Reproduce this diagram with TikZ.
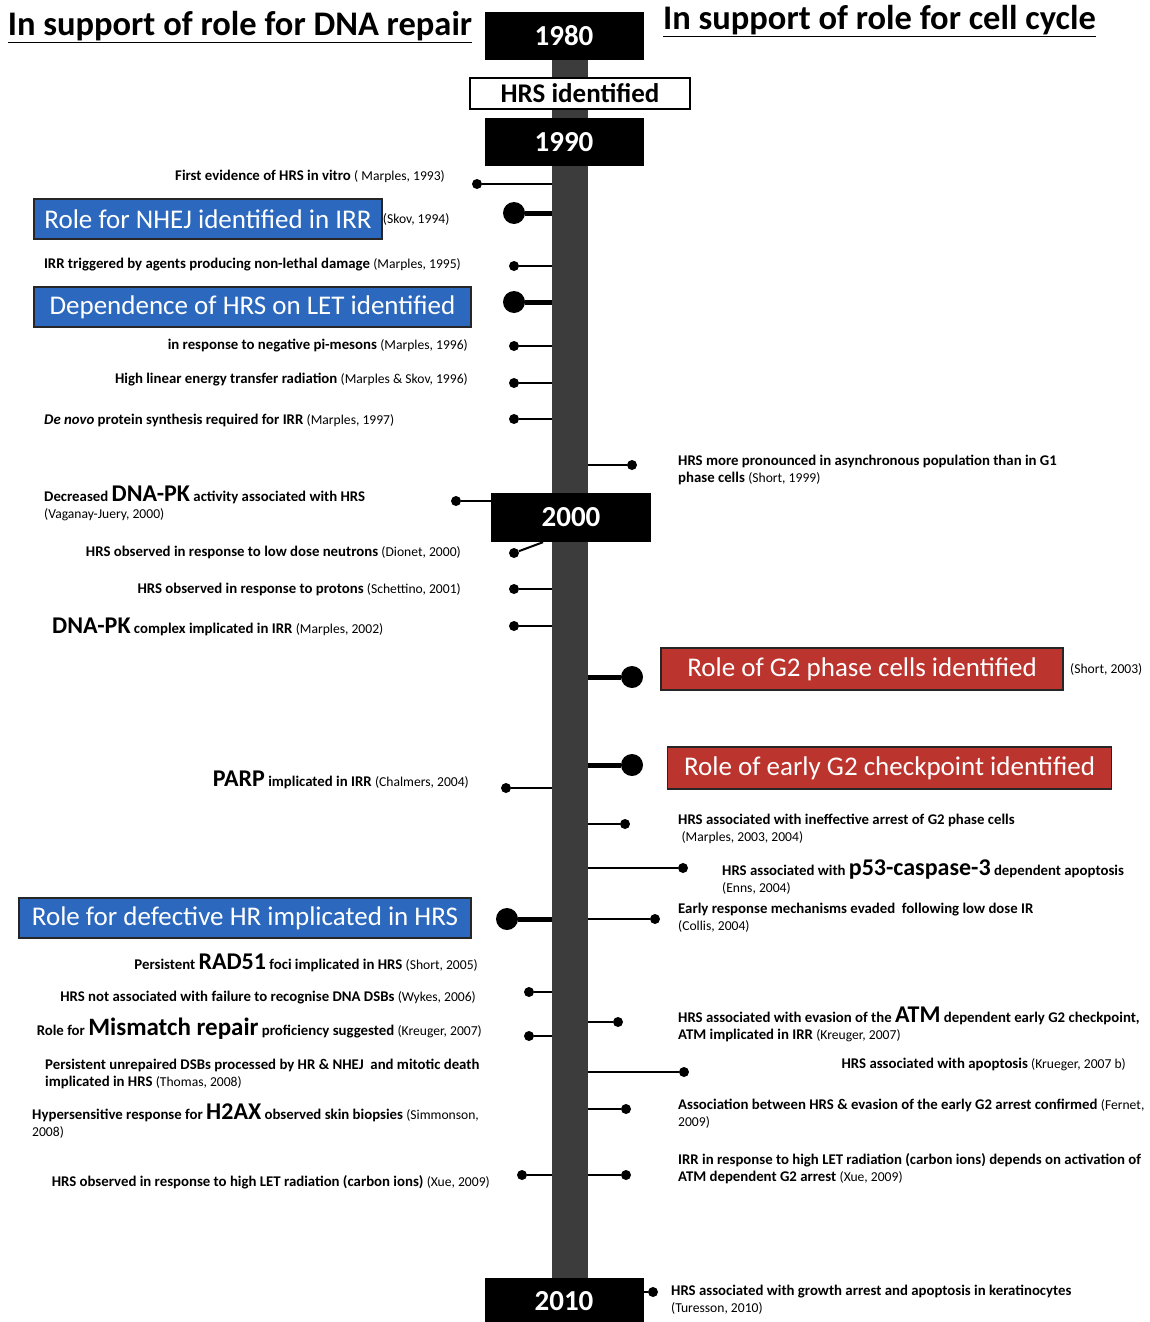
\documentclass[tikz,border=0pt]{standalone}
\usepackage{fontspec}
\setmainfont{Carlito}
\usetikzlibrary{positioning, calc}

\definecolor{barcol}{RGB}{60,60,60}
\definecolor{repblue}{RGB}{44,105,190}
\definecolor{cycred}{RGB}{188,52,46}

\newcommand{\srcf}{\mdseries\fontsize{13.6}{17}\selectfont}
\newcommand{\src}[1]{{\srcf(#1)}}
\newcommand{\bigword}[2][24]{{\fontsize{#1}{#1}\selectfont #2}}

\tikzset{
  yearbox/.style={fill=black, text=white, inner sep=0, minimum width=159, minimum height=48,
    font=\bfseries\fontsize{29}{32}\selectfont},
  rolebox/.style={draw=black!85, line width=1.5, text=white, inner sep=0,
    minimum height=40, font=\fontsize{27}{30}\selectfont},
  note/.style={inner sep=0, align=left, font=\bfseries\fontsize{14.8}{17}\selectfont},
  smalldot/.style={circle, fill=black, inner sep=0, minimum size=10},
  bigdot/.style={circle, fill=black, inner sep=0, minimum size=22},
  thin/.style={line width=2},
  thick/.style={line width=5}
}

\begin{document}
\begin{tikzpicture}[x=1pt, y=-1pt]
\useasboundingbox (0,0) rectangle (1150,1322);

% headings
\node[font=\bfseries\fontsize{34.5}{38}\selectfont, inner sep=0] (hrep) at (240,27) {\underline{In support of role for DNA repair}};
\node[font=\bfseries\fontsize{34.5}{38}\selectfont, inner sep=0] (hcyc) at (879.5,21) {\underline{In support of role for cell cycle}};

% time line
\node[fill=barcol, inner sep=0, minimum width=36, minimum height=1220] (bar) at (570,670) {};
\node[yearbox] (y1980) at (564,36) {1980};
\node[draw, line width=1.5, fill=white, inner sep=0, minimum width=220, minimum height=31,
      font=\bfseries\fontsize{27}{30}\selectfont] (hrsid) at (580,93.5) {HRS identified};
\node[yearbox] (y1990) at (564,142) {1990};
\node[yearbox, minimum width=160, minimum height=49] (y2000) at (571,517.5) {2000};
\node[yearbox, minimum height=46] (y2010) at (564,1301) {2010};

% dots, DNA repair side
\foreach \n/\x/\y in {a/477/184, b/514/266, c/514/346, d/514/383, e/514/419,
                      f/514/589, g/514/626, h/506/788, i/529/992, j/529/1036, k/522/1175} {
  \node[smalldot] (l\n) at (\x,\y) {};
  \draw[thin] (l\n) -- (l\n -| bar.west);
}
\foreach \n/\x/\y in {a/514/213, b/514/302, c/507/919} {
  \node[bigdot] (L\n) at (\x,\y) {};
  \draw[thick] (L\n) -- (L\n -| bar.west);
}
\node[smalldot] (lvag) at (456,501) {};
\draw[thin] (lvag) -- (lvag -| y2000.west);
\node[smalldot] (ldio) at (514,553) {};
\draw[thin] (ldio) -- ([xshift=-28]y2000.south);

% dots, cell cycle side
\foreach \n/\x/\y in {a/632/465, b/625/824, c/683/868, d/655/919, e/618/1022,
                      f/684/1072, g/626/1109, h/626/1175} {
  \node[smalldot] (r\n) at (\x,\y) {};
  \draw[thin] (r\n) -- (r\n -| bar.east);
}
\foreach \n/\x/\y in {a/632/677, b/632/765} {
  \node[bigdot] (R\n) at (\x,\y) {};
  \draw[thick] (R\n) -- (R\n -| bar.east);
}
\node[smalldot] (rtur) at (653,1292) {};
\draw[thin] (rtur) -- (rtur -| y2010.east);

% DNA repair notes
\node[note, anchor=east] (na) at (445,176) {First evidence of HRS in vitro \src{ Marples, 1993}};
\node[rolebox, fill=repblue, minimum width=348] (boxnhej) at (208,219) {Role for NHEJ identified in IRR};
\node[inner sep=0, anchor=west, font=\srcf] (cskov) at (boxnhej.east) {(Skov, 1994)};
\node[note, anchor=east] (nb) at (461,265) {IRR triggered by agents producing non-lethal damage \src{Marples, 1995}};
\node[rolebox, fill=repblue, minimum width=437] (boxlet) at (252.5,307) {Dependence of HRS on LET identified};
\node[note, anchor=east] (nc) at (468,346) {in response to negative pi-mesons \src{Marples, 1996}};
\node[note, anchor=east] (nd) at (468,380) {High linear energy transfer radiation \src{Marples \& Skov, 1996}};
\node[note, anchor=west] (ne) at (44,420) {\textit{De novo} protein synthesis required for IRR \src{Marples, 1997}};
\node[note, anchor=west] (nf) at (44,503) {Decreased \bigword{DNA-PK} activity associated with HRS\\\src{Vaganay-Juery, 2000}};
\node[note, anchor=east] (ng) at (461,552) {HRS observed in response to low dose neutrons \src{Dionet, 2000}};
\node[note, anchor=east] (nh) at (461,589) {HRS observed in response to protons \src{Schettino, 2001}};
\node[note, anchor=west] (ni) at (52,627) {\bigword{DNA-PK} complex implicated in IRR \src{Marples, 2002}};
\node[note, anchor=east] (nj) at (469,780) {\bigword{PARP} implicated in IRR \src{Chalmers, 2004}};
\node[rolebox, fill=repblue, minimum width=452] (boxhr) at (245,918) {Role for defective HR implicated in HRS};
\node[note, anchor=east] (nk) at (478,963) {Persistent \bigword{RAD51} foci implicated in HRS \src{Short, 2005}};
\node[note, anchor=east] (nl) at (476,998) {HRS not associated with failure to recognise DNA DSBs \src{Wykes, 2006}};
\node[note, anchor=east] (nm) at (482,1029) {Role for \bigword[25]{Mismatch repair} proficiency suggested \src{Kreuger, 2007}};
\node[note, anchor=west] (nn) at (45,1074) {Persistent unrepaired DSBs processed by HR \& NHEJ\ \ and mitotic death\\implicated in HRS \src{Thomas, 2008}};
\node[note, anchor=west] (no) at (32,1121) {Hypersensitive response for \bigword{H2AX} observed skin biopsies {\srcf(Simmonson,}\\{\srcf 2008)}};
\node[note, anchor=east] (np) at (490,1182) {HRS observed in response to high LET radiation (carbon ions) \src{Xue, 2009}};

% cell cycle notes
\node[note, anchor=west] (ma) at (678,470) {HRS more pronounced in asynchronous population than in G1\\phase cells \src{Short, 1999}};
\node[rolebox, fill=cycred, minimum width=402, minimum height=42] (boxg2) at (862,669) {Role of G2 phase cells identified};
\node[inner sep=0, anchor=west, font=\srcf] (cshort) at (1070,669) {(Short, 2003)};
\node[rolebox, fill=cycred, minimum width=444, minimum height=42] (boxchk) at (889.5,768) {Role of early G2 checkpoint identified};
\node[note, anchor=west] (mb) at (678,829) {HRS associated with ineffective arrest of G2 phase cells\\\ \src{Marples, 2003, 2004}};
\node[note, anchor=west] (mc) at (722,877) {HRS associated with \bigword{p53-caspase-3} dependent apoptosis\\\src{Enns, 2004}};
\node[note, anchor=west] (md) at (678,918) {Early response mechanisms evaded\ \ following low dose IR\\\src{Collis, 2004}};
\node[note, anchor=west] (me) at (678,1024) {HRS associated with evasion of the \bigword{ATM} dependent early G2 checkpoint,\\ATM implicated in IRR \src{Kreuger, 2007}};
\node[note, anchor=east] (mf) at (1126,1064) {HRS associated with apoptosis \src{Krueger, 2007 b}};
\node[note, anchor=west] (mg) at (678,1114) {Association between HRS \& evasion of the early G2 arrest confirmed {\srcf(Fernet,}\\{\srcf 2009)}};
\node[note, anchor=west] (mh) at (678,1169) {IRR in response to high LET radiation (carbon ions) depends on activation of\\ATM dependent G2 arrest \src{Xue, 2009}};
\node[note, anchor=west] (mi) at (671,1300) {HRS associated with growth arrest and apoptosis in keratinocytes\\\src{Turesson, 2010}};
\end{tikzpicture}
\end{document}
